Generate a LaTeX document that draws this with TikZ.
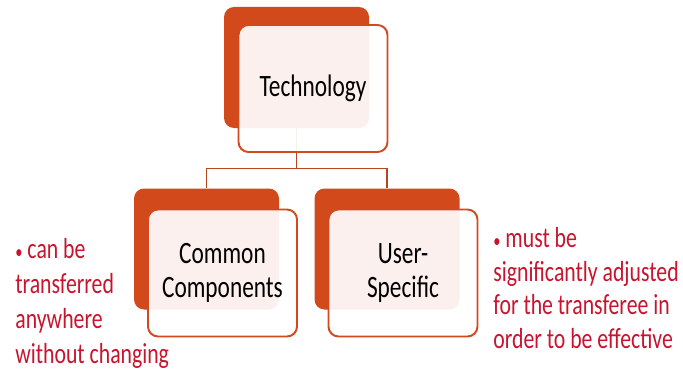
\documentclass[tikz,border=0pt]{standalone}
\usepackage{fontspec}
\setmainfont{Carlito}
\newfontfamily\narrowfont[FakeStretch=0.75]{Carlito}
\usepackage{xcolor}
\usepackage{tikz}
\usetikzlibrary{calc}
\definecolor{rust}{HTML}{D24A1C}
\definecolor{wire}{HTML}{B5461E}
\definecolor{note}{HTML}{C8142E}
\newcommand{\dotmark}{{\fontsize{11}{11}\selectfont•}}
\tikzset{
  backbox/.style={rectangle, rounded corners=0.2cm, fill=rust, draw=none,
    minimum width=2.9cm, minimum height=2.42cm, inner sep=0pt},
  frontbox/.style={rectangle, rounded corners=0.2cm, fill=white, fill opacity=0.92,
    text opacity=1, draw=rust, line width=1.1pt, minimum width=2.98cm,
    minimum height=2.54cm, align=center,
    font=\narrowfont\fontsize{17.7}{19.4}\selectfont},
  conn/.style={draw=wire, line width=0.9pt},
  noteL/.style={text=note, align=left, anchor=base west, inner sep=0pt,
    font=\narrowfont\fontsize{16.5}{19.9}\selectfont},
  noteR/.style={noteL, font=\narrowfont\fontsize{16.5}{19}\selectfont}
}

\begin{document}
\begin{tikzpicture}
  \useasboundingbox (0,0) rectangle (13.66,-7.42);

  % back shapes
  \node[backbox] (techback) at (5.93,-1.35) {};
  \node[backbox] (commonback) at (4.13,-4.98) {};
  \node[backbox] (userback) at (7.74,-4.98) {};

  % connectors
  \draw[conn] (techback.south) -- ++(0,-0.8) -| (commonback.north);
  \draw[conn] (techback.south) -- ++(0,-0.8) -| (userback.north);

  % front shapes
  \node[frontbox] (tech) at ($(techback)+(0.33,-0.42)$) {Technology};
  \node[frontbox] (common) at ($(commonback)+(0.32,-0.48)$) {Common\\Components};
  \node[frontbox] (user) at ($(userback)+(0.32,-0.48)$) {User-\\Specific};

  % notes (anchored on the last line)
  \node[noteL] (canbe) at (0.30,-7.26) {\dotmark{} can be\\transferred\\anywhere\\without changing};
  \node[noteR] (mustbe) at (9.86,-6.96) {\dotmark{} must be\\significantly adjusted\\for the transferee in\\order to be effective};
\end{tikzpicture}
\end{document}
